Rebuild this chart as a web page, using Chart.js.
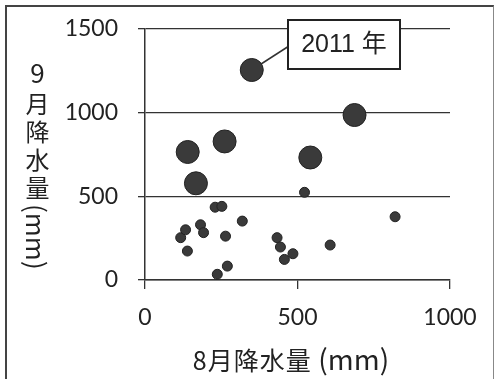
<!DOCTYPE html>
<html>
<head>
<meta charset="utf-8">
<script src="https://cdn.jsdelivr.net/npm/chart.js@4"></script>
<style>
  body { margin: 0; background: #fff; }
  #wrap { position: relative; width: 494px; height: 379px; }
  #grafico { position: absolute; left: 0; top: 0; }
  #frame { position: absolute; left: 5px; top: 5px; width: 486px; height: 380px;
           border-left: 2px solid #444; border-top: 2px solid #444; border-right: 1px solid #888; }
  #yTitle { position: absolute; left: 24px; top: 58px; writing-mode: vertical-rl;
            font: 24px "Noto Sans CJK JP", Lato, sans-serif; color: #222; line-height: 1; }
  #yTitle .up { text-combine-upright: all; font-size: 26px; margin-inline-end: 8px; }
  #yTitle .cjk { letter-spacing: 4px; }
  #yTitle .unit { font-size: 26px; }
  #xTitle { position: absolute; left: 0; width: 582px; top: 338px; text-align: center;
            font: 25px "Noto Sans CJK JP", Lato, sans-serif; color: #222; letter-spacing: 1px; }
  #xTitle .unit { font-size: 28px; letter-spacing: 0; }
</style>
</head>
<body>
<div id="wrap">
  <div id="frame"></div>
  <canvas id="grafico" width="494" height="379"></canvas>
  <div id="yTitle"><span class="up">9</span><span class="cjk">月降水量</span><span class="unit">(mm)</span></div>
  <div id="xTitle">8月降水量 <span class="unit">(mm)</span></div>
</div>
<script>
// 大きい点 (1番目が2011年)
const bigAug = [350, 687, 140, 261, 167, 542];
const bigSep = [1255, 986, 765, 828, 578, 732];

// 小さい点
const smallAug = [523, 230, 252, 319, 820, 117, 133, 182, 192, 139, 264, 270, 237, 433, 444, 457, 485, 607];
const smallSep = [524, 435, 440, 352, 378, 253, 300, 330, 283, 173, 262, 83, 34, 253, 197, 123, 157, 209];

const xTicks = [0, 500, 1000];
const yTicks = [0, 500, 1000, 1500];
const labelText = "2011 年";

const toPoints = (xs, ys) => xs.map((x, i) => ({ x: x, y: ys[i] }));

const annotation = {
    id: "annotation",
    beforeDatasetsDraw(chart) {
        const c = chart.ctx;
        const x = chart.scales.x.getPixelForValue(bigAug[0]);
        const y = chart.scales.y.getPixelForValue(bigSep[0]);
        c.save();
        c.strokeStyle = "#333";
        c.lineWidth = 1.5;
        c.beginPath();
        c.moveTo(x, y);
        c.lineTo(289, 46);
        c.stroke();
        c.restore();
    },
    afterDatasetsDraw(chart) {
        const c = chart.ctx;
        c.save();
        c.fillStyle = "#fff";
        c.fillRect(288, 20, 112, 49);
        c.strokeStyle = "#222";
        c.lineWidth = 2;
        c.strokeRect(288, 20, 112, 49);
        c.fillStyle = "#222";
        c.font = "25px 'Liberation Sans', 'Noto Sans CJK JP', sans-serif";
        c.textAlign = "center";
        c.textBaseline = "middle";
        c.fillText(labelText, 344, 45);
        c.restore();
    }
};

const ctx = document.getElementById("grafico");

new Chart(ctx, {
    type: "scatter",
    data: {
        datasets: [
            {
                data: toPoints(bigAug, bigSep),
                pointRadius: 11.5,
                backgroundColor: "#3a3a3a",
                borderColor: "#222",
                borderWidth: 1
            },
            {
                data: toPoints(smallAug, smallSep),
                pointRadius: 5,
                backgroundColor: "#3a3a3a",
                borderColor: "#222",
                borderWidth: 1
            }
        ]
    },
    options: {
        responsive: false,
        animation: false,
        layout: { padding: { left: 0, top: 29, right: 44, bottom: 0 } },
        plugins: {
            legend: { display: false },
            tooltip: { enabled: false }
        },
        scales: {
            x: {
                type: "linear",
                min: xTicks[0],
                max: xTicks[xTicks.length - 1],
                afterBuildTicks: s => { s.ticks = xTicks.map(v => ({ value: v })); },
                afterFit: s => { s.height = 99; s.paddingLeft = 0; s.paddingRight = 0; },
                grid: { drawOnChartArea: false, drawTicks: true, tickLength: 9, color: "#333", lineWidth: 1.3 },
                border: { color: "#333", width: 1.5 },
                ticks: { padding: 15, color: "#222", font: { family: "Lato", size: 23 }, maxRotation: 0,
                         callback: v => String(v) }
            },
            y: {
                type: "linear",
                min: yTicks[0],
                max: yTicks[yTicks.length - 1],
                afterBuildTicks: s => { s.ticks = yTicks.map(v => ({ value: v })); },
                afterFit: s => { s.width = 145; s.paddingTop = 0; s.paddingBottom = 0; },
                grid: { color: "#333", lineWidth: 1.3, tickLength: 7 },
                border: { color: "#333", width: 1.5 },
                ticks: { padding: 20, color: "#222", font: { family: "Lato", size: 23 },
                         callback: v => String(v) }
            }
        }
    },
    plugins: [annotation]
});
</script>
</body>
</html>
